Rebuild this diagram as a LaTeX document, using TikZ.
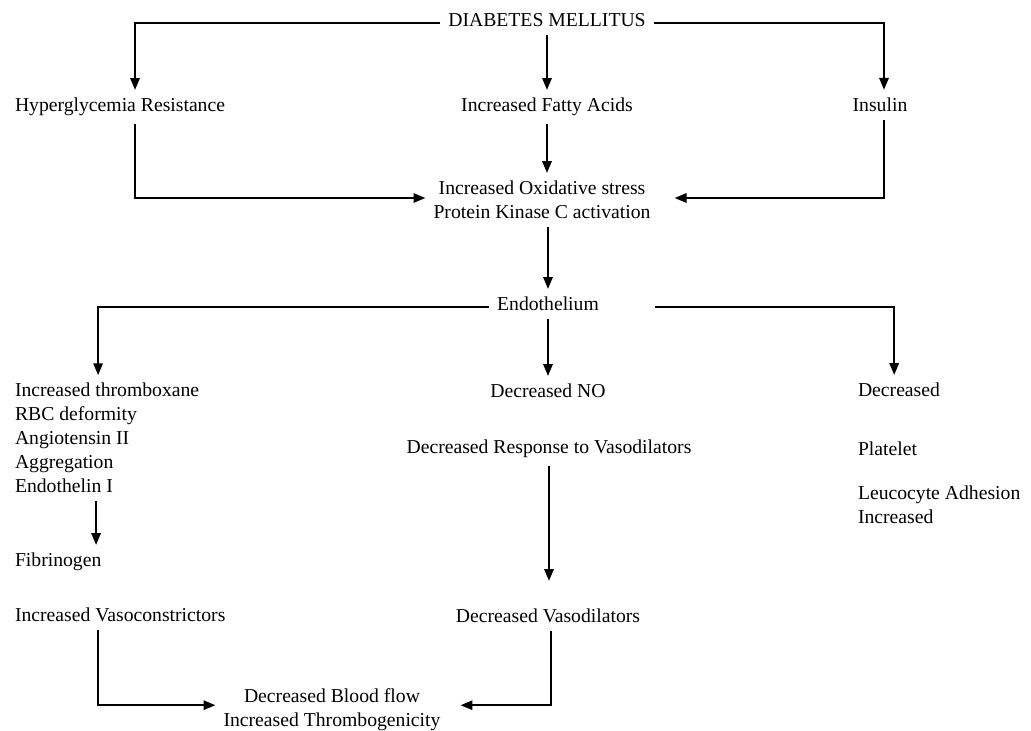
\documentclass[tikz,border=0pt]{standalone}
\usepackage{fontspec}
\setmainfont{Liberation Serif}
\usepackage{tikz}
\usetikzlibrary{arrows.meta,positioning,calc}

\begin{document}
\begin{tikzpicture}[
  flow/.style={-{Triangle[length=3mm,width=2.3mm]}, line width=1.7pt},
  txt/.style={inner sep=0pt, outer sep=2mm, font=\fontsize{14}{17}\selectfont},
  lefttxt/.style={txt, anchor=west, align=left},
  midtxt/.style={txt, align=center}
]
  \useasboundingbox (0,0) rectangle (25.775,-18.275);

  % --- NIVEL SUPERIOR ---
  \node[midtxt] (dm) at (13.675, -0.5) {DIABETES MELLITUS};
  \node[lefttxt] (hyper) at (0.175, -2.675) {Hyperglycemia Resistance};
  \node[midtxt] (fatty) at (13.675, -2.675) {Increased Fatty Acids};
  \node[midtxt] (insulin) at (22.0, -2.62) {Insulin};
  \node[midtxt] (oxid) at (13.55, -5.0) {Increased Oxidative stress\\Protein Kinase C activation};
  \node[midtxt] (endo) at (13.7, -7.6) {Endothelium};

  % --- TRES RAMAS ---
  \node[lefttxt] (lst) at (0.175, -10.95) {Increased thromboxane\\RBC deformity\\Angiotensin II\\Aggregation\\Endothelin I};
  \node[midtxt] (dno) at (13.7, -9.775) {Decreased NO};
  \node[midtxt] (resp) at (13.725, -11.225) {Decreased Response to Vasodilators};
  \node[lefttxt] (decr) at (21.25, -9.75) {Decreased};
  \node[lefttxt] (plat) at (21.25, -11.225) {Platelet};
  \node[lefttxt] (leuco) at (21.25, -12.6125) {Leucocyte Adhesion\\Increased};

  % --- NIVEL INFERIOR ---
  \node[lefttxt] (fib) at (0.175, -14.05) {Fibrinogen};
  \node[lefttxt] (vcon) at (0.175, -15.375) {Increased Vasoconstrictors};
  \node[midtxt] (vdil) at (13.7, -15.4) {Decreased Vasodilators};
  \node[midtxt] (blood) at (8.3, -17.75) {Decreased Blood flow\\Increased Thrombogenicity};

  % --- CONEXIONES ---
  \draw[flow] ([yshift=-0.8mm]dm.west) -| ([xshift=3.75mm]hyper.north);
  \draw[flow] ([yshift=-0.8mm]dm.east) -| ([xshift=1mm]insulin.north);
  \draw[flow] (dm) -- (fatty);
  \draw[flow] (fatty) -- (fatty |- oxid.north);
  \draw[flow] ([xshift=3.75mm]hyper.south) |- ([yshift=0.5mm]oxid.west);
  \draw[flow] ([xshift=1mm]insulin.south) |- ([xshift=4mm, yshift=0.5mm]oxid.east);
  \draw[flow] (endo |- oxid.south) -- (endo);

  % Endotelio
  \draw[flow] ([yshift=-0.8mm]endo.west) -| ([xshift=-2.25mm]lst.north);
  \draw[flow] ([xshift=12mm, yshift=-0.8mm]endo.east) -| ([xshift=-1.2mm]decr.north);
  \draw[flow] (endo) -- (dno);

  % Rama izquierda
  \draw[flow] ([xshift=-2.75mm]lst.south) -- ([xshift=-2.75mm]lst.south |- fib.north);
  \draw[flow] ([xshift=-5.5mm]vcon.south) |- ([yshift=1.2mm]blood.west);

  % Rama central
  \draw[flow] (resp) -- ([yshift=5mm]resp |- vdil.north);
  \draw[flow] ([xshift=0.8mm]vdil.south) |- ([xshift=3mm, yshift=1.2mm]blood.east);

\end{tikzpicture}
\end{document}
